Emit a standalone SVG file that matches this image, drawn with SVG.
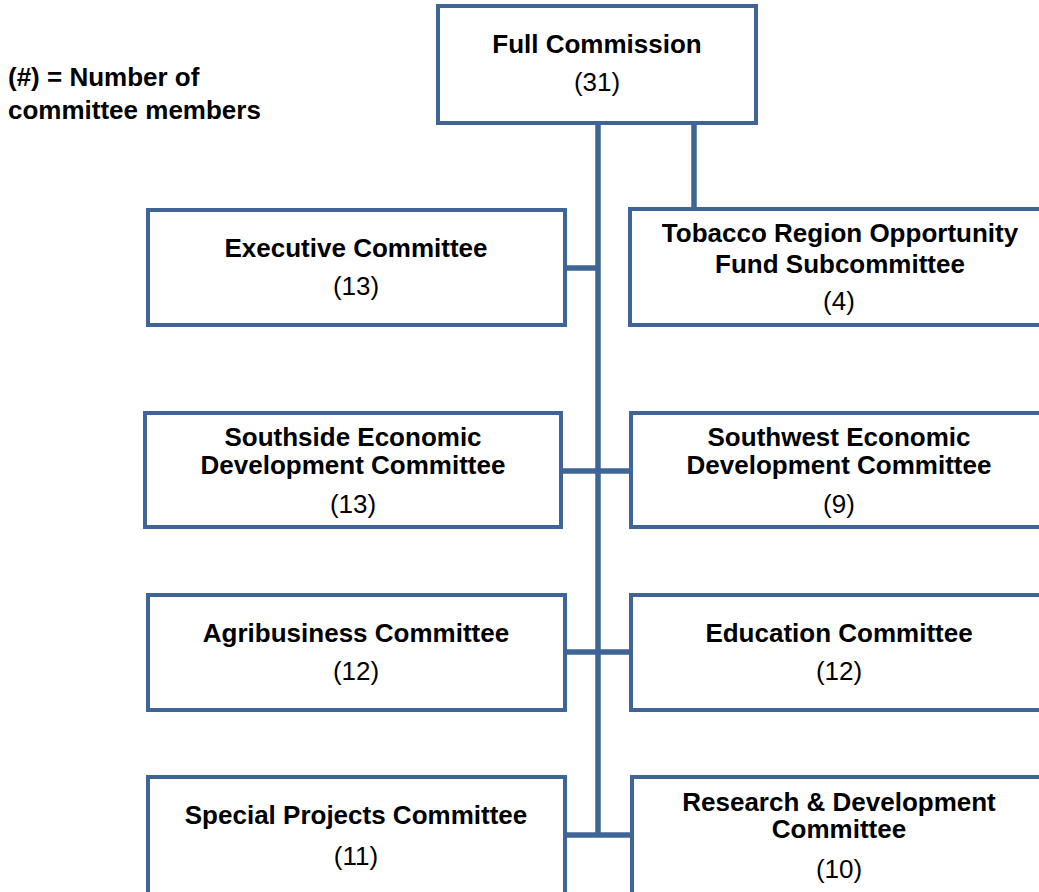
<svg xmlns="http://www.w3.org/2000/svg" width="1039" height="892" viewBox="0 0 1039 892">
  <style>
    .box { fill: #ffffff; stroke: #3E6596; stroke-width: 4; }
    .wire { stroke: #3E6596; stroke-width: 5.5; fill: none; }
    .title { font-family: "Liberation Sans", Arial, sans-serif; font-size: 26px; font-weight: bold; fill: #000000; text-anchor: middle; }
    .count { font-family: "Liberation Sans", Arial, sans-serif; font-size: 26px; fill: #000000; text-anchor: middle; }
    .legend { font-family: "Liberation Sans", Arial, sans-serif; font-size: 26px; font-weight: bold; fill: #000000; }
  </style>
  <rect width="1039" height="892" fill="#ffffff"/>

  <!-- connectors -->
  <g id="connectors">
    <line class="wire" x1="598" y1="123" x2="598" y2="835"/>
    <line class="wire" x1="694" y1="123" x2="694" y2="209"/>
    <line class="wire" x1="565" y1="268" x2="598" y2="268"/>
    <line class="wire" x1="561" y1="471" x2="631" y2="471"/>
    <line class="wire" x1="565" y1="652" x2="631" y2="652"/>
    <line class="wire" x1="565" y1="835" x2="632" y2="835"/>
  </g>

  <!-- legend -->
  <g id="legend">
    <text class="legend" x="8" y="86">(#) = Number of</text>
    <text class="legend" x="8" y="119">committee members</text>
  </g>

  <g id="full-commission">
    <rect class="box" x="438" y="6" width="318" height="117"/>
    <text class="title" x="597" y="53">Full Commission</text>
    <text class="count" x="597" y="91">(31)</text>
  </g>

  <g id="executive">
    <rect class="box" x="148" y="210" width="417" height="115"/>
    <text class="title" x="356" y="257">Executive Committee</text>
    <text class="count" x="356" y="295">(13)</text>
  </g>

  <g id="tobacco-fund">
    <rect class="box" x="630" y="209" width="420" height="116"/>
    <text class="title" x="840" y="242">Tobacco Region Opportunity</text>
    <text class="title" x="840" y="273">Fund Subcommittee</text>
    <text class="count" x="839" y="310">(4)</text>
  </g>

  <g id="southside">
    <rect class="box" x="145" y="413" width="416" height="114"/>
    <text class="title" x="353" y="446">Southside Economic</text>
    <text class="title" x="353" y="474">Development Committee</text>
    <text class="count" x="353" y="513">(13)</text>
  </g>

  <g id="southwest">
    <rect class="box" x="631" y="413" width="420" height="114"/>
    <text class="title" x="839" y="446">Southwest Economic</text>
    <text class="title" x="839" y="474">Development Committee</text>
    <text class="count" x="839" y="513">(9)</text>
  </g>

  <g id="agribusiness">
    <rect class="box" x="148" y="595" width="417" height="115"/>
    <text class="title" x="356" y="642">Agribusiness Committee</text>
    <text class="count" x="356" y="680">(12)</text>
  </g>

  <g id="education">
    <rect class="box" x="631" y="595" width="420" height="115"/>
    <text class="title" x="839" y="642">Education Committee</text>
    <text class="count" x="839" y="680">(12)</text>
  </g>

  <g id="special-projects">
    <rect class="box" x="148" y="777" width="417" height="130"/>
    <text class="title" x="356" y="824">Special Projects Committee</text>
    <text class="count" x="356" y="865">(11)</text>
  </g>

  <g id="research">
    <rect class="box" x="632" y="777" width="420" height="130"/>
    <text class="title" x="839" y="811">Research &amp; Development</text>
    <text class="title" x="839" y="838">Committee</text>
    <text class="count" x="839" y="878">(10)</text>
  </g>
</svg>
